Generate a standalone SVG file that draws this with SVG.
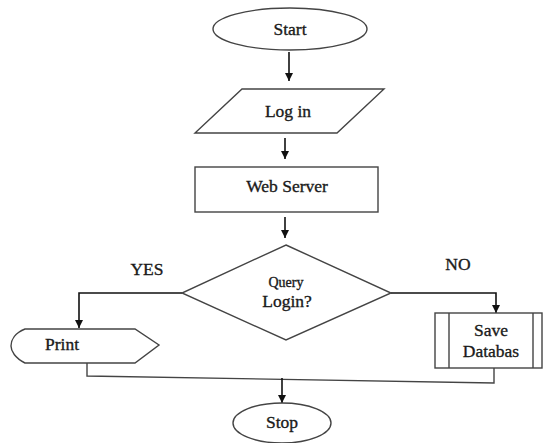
<svg xmlns="http://www.w3.org/2000/svg" width="543" height="443" viewBox="0 0 543 443">
  <defs>
    <marker id="arrow" viewBox="0 0 10 10" refX="10" refY="5" markerWidth="8" markerHeight="8" markerUnits="userSpaceOnUse" orient="auto">
      <path d="M0,0 L10,5 L0,10 Z" fill="#111"/>
    </marker>
    <style>
      .shape { fill: #fff; stroke: #444; stroke-width: 1.4; }
      .line { fill: none; stroke: #444; stroke-width: 1.4; }
      .arrow { fill: none; stroke: #111; stroke-width: 1.6; marker-end: url(#arrow); }
      text { font-family: "Liberation Serif", "Times New Roman", serif; font-size: 17.5px; fill: #1a1a1a; stroke: #1a1a1a; stroke-width: 0.35; text-anchor: middle; }
      .small { font-size: 14px; }
    </style>
  </defs>
  <rect width="543" height="443" fill="#fff"/>

  <g id="connectors">
    <path class="arrow" d="M289,52 V81"/>
    <path class="arrow" d="M285,138 V159"/>
    <path class="arrow" d="M285,217 V238"/>
    <path class="arrow" d="M182,293 H79 V328"/>
    <path class="arrow" d="M391,293 H496 V313"/>
    <path class="line" d="M87,363 V376 L494,383 V368"/>
    <path class="arrow" d="M282,378 V403"/>
  </g>

  <g id="start">
    <ellipse class="shape" cx="290" cy="29" rx="77" ry="21"/>
    <text x="290" y="35">Start</text>
  </g>

  <g id="login">
    <polygon class="shape" points="242,89 384,89 337,133 195,133"/>
    <text x="288" y="117">Log in</text>
  </g>

  <g id="web-server">
    <rect class="shape" x="195" y="167" width="183" height="45"/>
    <text x="287" y="192">Web Server</text>
  </g>

  <g id="query-login">
    <polygon class="shape" points="286,245 391,293 286,340 182,293"/>
    <text class="small" x="286" y="287">Query</text>
    <text x="287" y="307">Login?</text>
  </g>

  <g id="labels">
    <text x="147" y="275">YES</text>
    <text x="458" y="270">NO</text>
  </g>

  <g id="print">
    <path class="shape" d="M25,329 H135 L159,345 L135,363 H25 C15,358 11,351 11,346 C11,340 15,333 25,329 Z"/>
    <text x="62" y="350">Print</text>
  </g>

  <g id="save-database">
    <rect class="shape" x="435" y="313" width="107" height="55"/>
    <path class="line" d="M449,313 V368 M533,313 V368"/>
    <text x="491" y="336">Save</text>
    <text x="491" y="357">Databas</text>
  </g>

  <g id="stop">
    <ellipse class="shape" cx="282" cy="423" rx="49" ry="20"/>
    <text x="282" y="428">Stop</text>
  </g>
</svg>
